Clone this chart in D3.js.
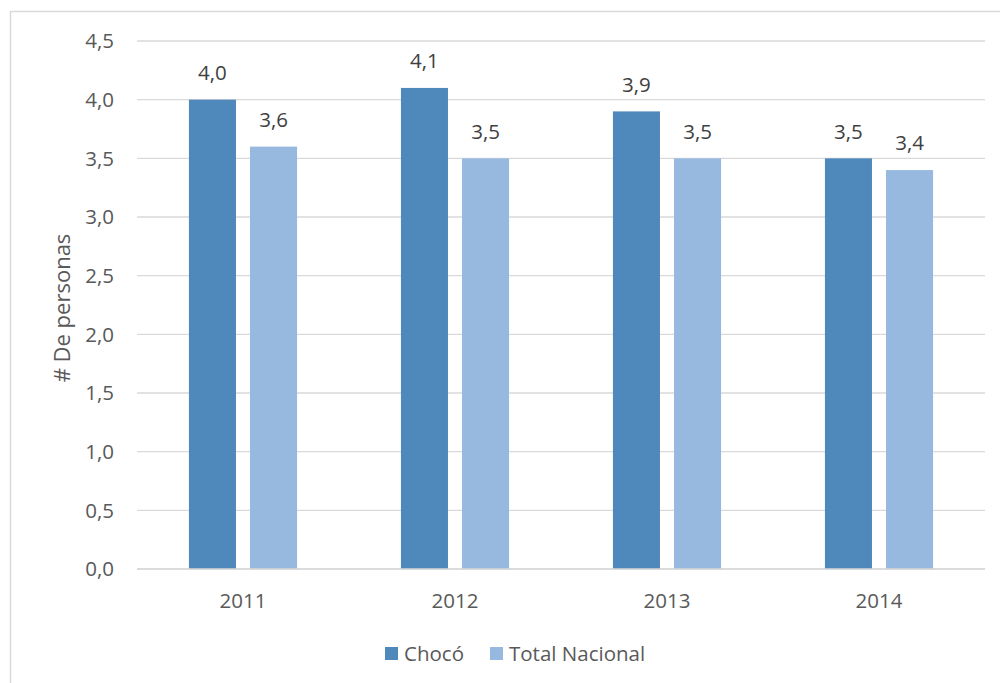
<!DOCTYPE html>
<html><head><meta charset="utf-8">
<script src="https://cdn.jsdelivr.net/npm/d3@7/dist/d3.min.js"></script>
<style>body{margin:0;background:#fff;}svg{display:block;font-family:"Open Sans","Noto Sans",sans-serif;}</style>
</head><body><svg id="c" width="1000" height="683"></svg>
<script>
const years = ["2011","2012","2013","2014"];
const seriesNames = ["Chocó","Total Nacional"];
const choco = [4.0,4.1,3.9,3.5];
const nacional = [3.6,3.5,3.5,3.4];
const yTicks = [0,0.5,1,1.5,2,2.5,3,3.5,4,4.5];
const colors = ["#4F88BB","#97B9E0"];

(function(){
const svg = d3.select("#c");
const fmt = v => d3.format(".1f")(v).replace(".", ",");
svg.append("rect").attr("x",10.5).attr("y",11.5).attr("width",1000).attr("height",700)
  .attr("fill","#fff").attr("stroke","#D9D9D9").attr("stroke-width",1.5);

const pl=137,pr=985,pt=41,pb=569;
const x = d3.scaleBand().domain(years).range([pl,pr]);
const y = d3.scaleLinear().domain([0,4.5]).range([pb,pt]);
const x1 = d3.scaleBand().domain(seriesNames).range([0,x.bandwidth()]).paddingInner(0.23).paddingOuter(0.85);

svg.append("g").selectAll("line").data(yTicks).join("line")
  .attr("x1",pl).attr("x2",pr).attr("y1",d=>y(d)).attr("y2",d=>y(d))
  .attr("stroke","#D9D9D9").attr("stroke-width",1.3);

svg.append("g").selectAll("text").data(yTicks).join("text")
  .attr("x",114).attr("y",d=>y(d)).attr("dy","0.35em").attr("text-anchor","end")
  .attr("font-size",20.5).attr("fill","#595959").text(fmt);

const data = [choco,nacional];
data.forEach((vals,si)=>{
  const g = svg.append("g");
  g.selectAll("rect").data(vals).join("rect")
    .attr("x",(d,i)=>x(years[i])+x1(seriesNames[si]))
    .attr("width",x1.bandwidth())
    .attr("y",d=>y(d)).attr("height",d=>pb-y(d))
    .attr("fill",colors[si]);
  g.selectAll("text").data(vals).join("text")
    .attr("x",(d,i)=>x(years[i])+x1(seriesNames[si])+x1.bandwidth()/2)
    .attr("y",d=>y(d)-27).attr("dy","0.35em").attr("text-anchor","middle")
    .attr("font-size",20.5).attr("fill","#404040").text(fmt);
});

svg.append("line").attr("x1",pl).attr("x2",pr).attr("y1",pb).attr("y2",pb)
  .attr("stroke","#D9D9D9").attr("stroke-width",1.5);

svg.append("g").selectAll("text").data(years).join("text")
  .attr("x",d=>x(d)+x.bandwidth()/2).attr("y",601).attr("dy","0.35em").attr("text-anchor","middle")
  .attr("font-size",20.5).attr("fill","#595959").text(d=>d);

svg.append("text").attr("transform","translate(62,308) rotate(-90)").attr("text-anchor","middle")
  .attr("dy","0.35em").attr("font-size",22).attr("fill","#595959").text("# De personas");

const leg = [{n:seriesNames[0],x:385},{n:seriesNames[1],x:490}];
leg.forEach((l,i)=>{
  svg.append("rect").attr("x",l.x).attr("y",647).attr("width",13).attr("height",13).attr("fill",colors[i]);
  svg.append("text").attr("x",l.x+19).attr("y",654).attr("dy","0.35em").attr("font-size",20.5)
    .attr("fill","#595959").text(l.n);
});
})();
</script></body></html>
